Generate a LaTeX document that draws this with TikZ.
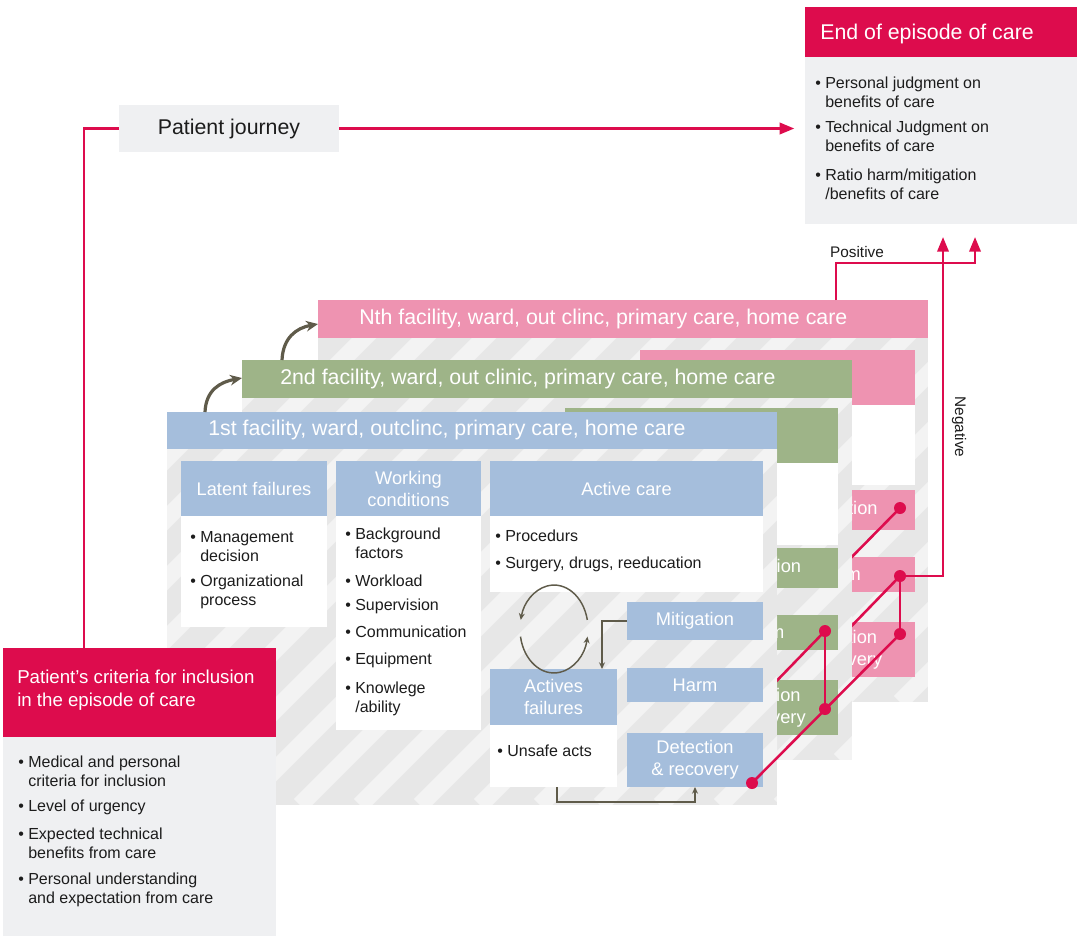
\documentclass[tikz,border=0pt]{standalone}
\usepackage{fontspec}
\setmainfont{Liberation Sans}
\usetikzlibrary{arrows.meta,fit,calc}
\definecolor{red0}{RGB}{221,12,77}
\definecolor{pink0}{RGB}{238,147,177}
\definecolor{green0}{RGB}{158,180,136}
\definecolor{blue0}{RGB}{165,190,220}
\definecolor{grayb}{RGB}{231,231,231}
\definecolor{boxg}{RGB}{239,240,242}
\definecolor{olv}{RGB}{95,91,74}
\definecolor{txt}{RGB}{28,28,28}
\newcommand\bu{\textbullet\ }
\newcommand\bi{\hphantom{\textbullet\ }}
\newcommand\stripebody[4]{%
  \begin{scope}
    \clip (#1,#2) rectangle (#3,#4);
    \fill[grayb] (#1,#2) rectangle (#3,#4);
    \foreach \s in {-600,-540,...,1100}
      \draw[white,opacity=0.5,line width=13pt] (\s,#4) -- ++(520,-520);
  \end{scope}}
\begin{document}
\begin{tikzpicture}[x=0.75pt,y=-0.75pt,
 bx/.style={inner sep=0pt, outer sep=0pt, draw=none},
 btxt/.style={text=white, align=center, inner sep=0pt, font=\fontsize{13.7}{16.5}\selectfont},
 bktxt/.style={btxt, xshift=-6pt},
 htxt/.style={text=white, anchor=west, inner sep=0pt, font=\fontsize{16}{19}\selectfont},
 blist/.style={anchor=north west, inner sep=0pt, align=left, text=txt, font=\fontsize{12}{14.25}\selectfont},
 rline/.style={draw=red0, line width=1.9pt},
 rarrow/.style={rline, -{Triangle[length=11pt,width=8.5pt]}},
 oline/.style={draw=olv, line width=1.1pt},
 oarrow/.style={oline, -{Stealth[length=5pt,width=4.5pt]}},
 curv/.style={draw=olv, line width=2.4pt, -{Stealth[length=9pt,width=8pt]}},
 rdot/.style={circle, fill=red0, inner sep=0pt, minimum size=9pt},
 small/.style={text=txt, font=\fontsize{11.5}{14}\selectfont}]
\useasboundingbox (0,0) rectangle (1077,936);

% coordinates of the red connector points
\coordinate (cD1) at (752,783);
\coordinate (cD2h) at (825,631);
\coordinate (cD2d) at (825,709);
\coordinate (cDNm) at (900,508);
\coordinate (cDNh) at (900,576);
\coordinate (cDNd) at (900,634);
\coordinate (s2) at (762,696);
\coordinate (s3) at (838,640);
\coordinate (s4) at (838,571);

% patient journey
\node[bx, fill=boxg, fit={(119,105)(339,152)}, label={[text=txt, inner sep=0pt, font=\fontsize{16}{19}\selectfont]center:Patient journey}] (pj) {};

% end of episode
\node[bx, fill=red0, fit={(805,7)(1077,57)}] (endt) {};
\node[htxt] (endtt) at (820,34) {End of episode of care};
\node[bx, fill=boxg, fit={(805,57)(1077,224)}] (endb) {};
\node[blist] (endl) at (815,77) {\bu Personal judgment on\\\bi benefits of care\\[4.5pt]\bu Technical Judgment on\\\bi benefits of care\\[7pt]\bu Ratio harm/mitigation\\\bi /benefits of care};

% Nth panel
\node[bx, fill=pink0, fit={(318,300)(928,338)}] (hN) {};
\node[htxt] (hNt) at (359,319) {Nth facility, ward, out clinc, primary care, home care};
\stripebody{318}{338}{928}{702}
\node[bx, fill=pink0, fit={(640,350)(915,405)}] (acN) {};
\node[bx, fill=white, fit={(640,405)(915,485)}] (whN) {};
\node[bx, fill=pink0, fit={(778,490)(915,530)}, label={[bktxt]center:Mitigation}] (mitN) {};
\node[bx, fill=pink0, fit={(778,557)(915,592)}, label={[bktxt]center:Harm}] (harmN) {};
\node[bx, fill=pink0, fit={(778,622)(915,677)}, label={[bktxt]center:{Detection\\\& recovery}}] (detN) {};
\draw[rline] (s3) -- (cDNh);
\draw[rline] (s4) -- (cDNm);

% 2nd panel
\node[bx, fill=green0, fit={(242,360)(852,398)}] (h2) {};
\node[htxt] (h2t) at (280,379) {2nd facility, ward, out clinic, primary care, home care};
\stripebody{242}{398}{852}{760}
\node[bx, fill=green0, fit={(565,408)(838,463)}] (ac2) {};
\node[bx, fill=white, fit={(565,463)(838,545)}] (wh2) {};
\node[bx, fill=green0, fit={(702,548)(838,588)}, label={[bktxt]center:Mitigation}] (mit2) {};
\node[bx, fill=green0, fit={(702,615)(838,650)}, label={[bktxt]center:Harm}] (harm2) {};
\node[bx, fill=green0, fit={(702,680)(838,735)}, label={[bktxt]center:{Detection\\\& recovery}}] (det2) {};
\draw[rline] (s2) -- (cD2h);
\draw[rline] (cD2h) -- (cD2d);

% 1st panel
\node[bx, fill=blue0, fit={(167,412)(777,449)}] (h1) {};
\node[htxt] (h1t) at (208,430) {1st facility, ward, outclinc, primary care, home care};
\stripebody{167}{449}{777}{805}
\node[bx, fill=blue0, fit={(181,461)(327,516)}, label={[btxt]center:Latent failures}] (lat) {};
\node[bx, fill=white, fit={(181,516)(327,627)}] (latb) {};
\node[bx, fill=blue0, fit={(336,461)(481,516)}, label={[btxt]center:{Working\\conditions}}] (wc) {};
\node[bx, fill=white, fit={(336,516)(481,730)}] (wcb) {};
\node[bx, fill=blue0, fit={(490,461)(763,516)}, label={[btxt]center:Active care}] (ac) {};
\node[bx, fill=white, fit={(490,516)(763,592)}] (acb) {};
\node[bx, fill=blue0, fit={(627,602)(763,640)}, label={[btxt]center:Mitigation}] (mit) {};
\node[bx, fill=blue0, fit={(627,668)(763,702)}, label={[btxt]center:Harm}] (harm) {};
\node[bx, fill=blue0, fit={(627,733)(763,787)}, label={[btxt]center:{Detection\\\& recovery}}] (det) {};
\node[bx, fill=blue0, fit={(490,669)(617,725)}, label={[btxt]center:{Actives\\failures}}] (af) {};
\node[bx, fill=white, fit={(490,725)(617,787)}] (afb) {};

\node[blist] (latl) at (190,531) {\bu Management\\\bi decision\\[4.5pt]\bu Organizational\\\bi process};
\node[blist] (wcl) at (345,528) {\bu Background\\\bi factors\\[6.75pt]\bu Workload\\[3.75pt]\bu Supervision\\[6pt]\bu Communication\\[6pt]\bu Equipment\\[7.5pt]\bu Knowlege\\\bi /ability};
\node[blist] (acl) at (495,530) {\bu Procedurs\\[6pt]\bu Surgery, drugs, reeducation};
\node[blist] (afl) at (497,745) {\bu Unsafe acts};

% cycle
\coordinate (cyc) at (554,629);
\draw[oarrow] ($(cyc)+(33.3,-9.1)$) arc[start angle=-12, end angle=-168, x radius=34, y radius=44];
\draw[oarrow] ($(cyc)+(-33.5,7.6)$) arc[start angle=170, end angle=10, x radius=34, y radius=44];

\draw[oarrow] (mit.west) -| ($(af.north east)+(-15,0)$);
\draw[oarrow] ($(afb.south west)+(67,0)$) -- ++(0,15) -| (det.south);

% patient's criteria
\node[bx, fill=red0, fit={(3,648)(276,737)}] (crt) {};
\node[htxt, align=left, font=\fontsize{14}{17}\selectfont] (crtt) at (17,690) {Patient’s criteria for inclusion\\in the episode of care};
\node[bx, fill=boxg, fit={(3,737)(276,936)}] (crb) {};
\node[blist] (crl) at (18,756) {\bu Medical and personal\\\bi criteria for inclusion\\[4.5pt]\bu Level of urgency\\[6.75pt]\bu Expected technical\\\bi benefits from care\\[5.25pt]\bu Personal understanding\\\bi and expectation from care};

% curved arrows between facilities
\draw[curv] ($(h1.north west)+(38,0)$) .. controls +(1,-22) and +(-22,4) .. ($(h2.west)+(0,-1)$);
\draw[curv] ($(h2.north west)+(40,0)$) .. controls +(1,-22) and +(-22,4) .. ($(hN.west)+(0,5)$);

% red connectors
\draw[rline] ($(crt.north west)+(81,0)$) |- (pj.west);
\draw[rarrow, shorten >=8pt] (pj.east) -- (pj.east -| endb.west);
\draw[rarrow] ($(hN.north west)+(518,0)$) -- ++(0,-37) -| ($(endb.south west)+(170,13)$);
\draw[rarrow] (cDNh) -| ($(endb.south west)+(138,13)$);
\draw[rline] (cD1) -- (cDNd);
\draw[rline] (cDNh) -- (cDNd);
\foreach \c/\n in {cD1/D1, cD2h/D2h, cD2d/D2d, cDNm/DNm, cDNh/DNh, cDNd/DNd}
  \node[rdot] (\n) at (\c) {};

\node[small] (pos) at (857,252) {Positive};
\node[small, rotate=-90] (neg) at (959,427) {Negative};
\end{tikzpicture}
\end{document}
